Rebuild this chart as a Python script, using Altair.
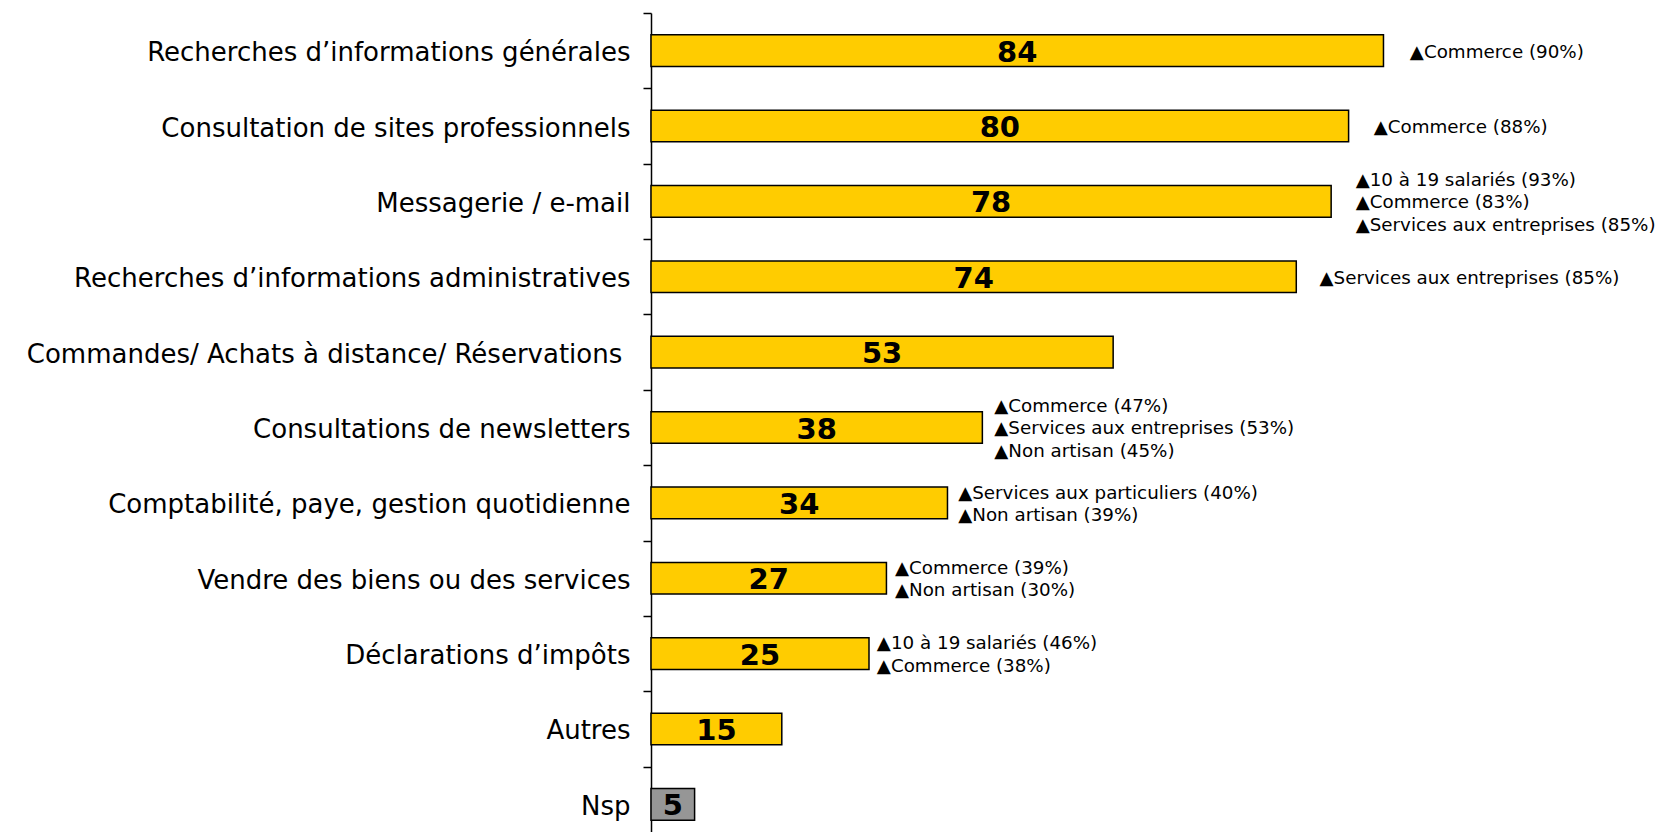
import altair as alt
import pandas as pd

categories = [
    "Recherches d\u2019informations générales",
    "Consultation de sites professionnels",
    "Messagerie / e-mail",
    "Recherches d\u2019informations administratives",
    "Commandes/ Achats à distance/ Réservations\u00a0\u200b",
    "Consultations de newsletters",
    "Comptabilité, paye, gestion quotidienne",
    "Vendre des biens ou des services",
    "Déclarations d\u2019impôts",
    "Autres",
    "Nsp",
]
values = [84, 80, 78, 74, 53, 38, 34, 27, 25, 15, 5]
annotations = [
    "▲Commerce (90%)",
    "▲Commerce (88%)",
    "▲10 à 19 salariés (93%)\n▲Commerce (83%)\n▲Services aux entreprises (85%)",
    "▲Services aux entreprises (85%)",
    "",
    "▲Commerce (47%)\n▲Services aux entreprises (53%)\n▲Non artisan (45%)",
    "▲Services aux particuliers (40%)\n▲Non artisan (39%)",
    "▲Commerce (39%)\n▲Non artisan (30%)",
    "▲10 à 19 salariés (46%)\n▲Commerce (38%)",
    "",
    "",
]

df = pd.DataFrame({"category": categories, "value": values, "note": annotations})

FONT = "DejaVu Sans"
STEP = 829 / 11
LINE_H = 22.3

y_enc = alt.Y(
    "category:N",
    sort=categories,
    scale=alt.Scale(paddingInner=0.58, paddingOuter=0.29),
    axis=alt.Axis(
        title=None,
        grid=False,
        domainColor="black",
        domainWidth=1.5,
        tickColor="black",
        tickWidth=1.5,
        tickSize=8,
        tickOffset=-STEP / 2,
        labelOffset=STEP / 2 + 2,
        labelFont=FONT,
        labelFontSize=26,
        labelColor="black",
        labelPadding=13,
        labelLimit=900,
    ),
)
x_scale = alt.Scale(domain=[0, 100], nice=False)

base = alt.Chart(df)

bars = base.mark_bar(stroke="black", strokeWidth=1.5).encode(
    y=y_enc,
    x=alt.X("value:Q", scale=x_scale, axis=None),
    color=alt.condition(
        alt.datum.category == "Nsp", alt.value("#969696"), alt.value("#FFCC00")
    ),
)

labels = base.transform_calculate(mid="datum.value / 2").mark_text(
    font=FONT, fontSize=29, fontWeight="bold", color="black", baseline="middle", dy=2
).encode(
    y=alt.Y("category:N", sort=categories),
    x=alt.X("mid:Q", scale=x_scale),
    text="value:Q",
)

note_layers = []
for k in (1, 2, 3):
    note_layers.append(
        base.transform_filter("datum.note != ''")
        .transform_calculate(
            nx="datum.value * 1.036",
            nlines="length(split(datum.note, '\\n'))",
        )
        .transform_filter(f"datum.nlines == {k}")
        .mark_text(
            font=FONT, fontSize=18.3, color="black", align="left", baseline="middle",
            lineBreak="\n", lineHeight=LINE_H, dy=-(k - 1) * LINE_H / 2 + 2,
        )
        .encode(
            y=alt.Y("category:N", sort=categories),
            x=alt.X("nx:Q", scale=x_scale),
            text="note:N",
        )
    )

chart = (
    alt.layer(bars, labels, *note_layers)
    .properties(
        width=872,
        height=829,
        autosize=alt.AutoSizeParams(type="none"),
        padding={"left": 643, "top": 5, "right": 134, "bottom": -10},
    )
    .configure_view(strokeWidth=0)
)

chart.save("out.html", embed_options={"renderer": "svg", "actions": False})
